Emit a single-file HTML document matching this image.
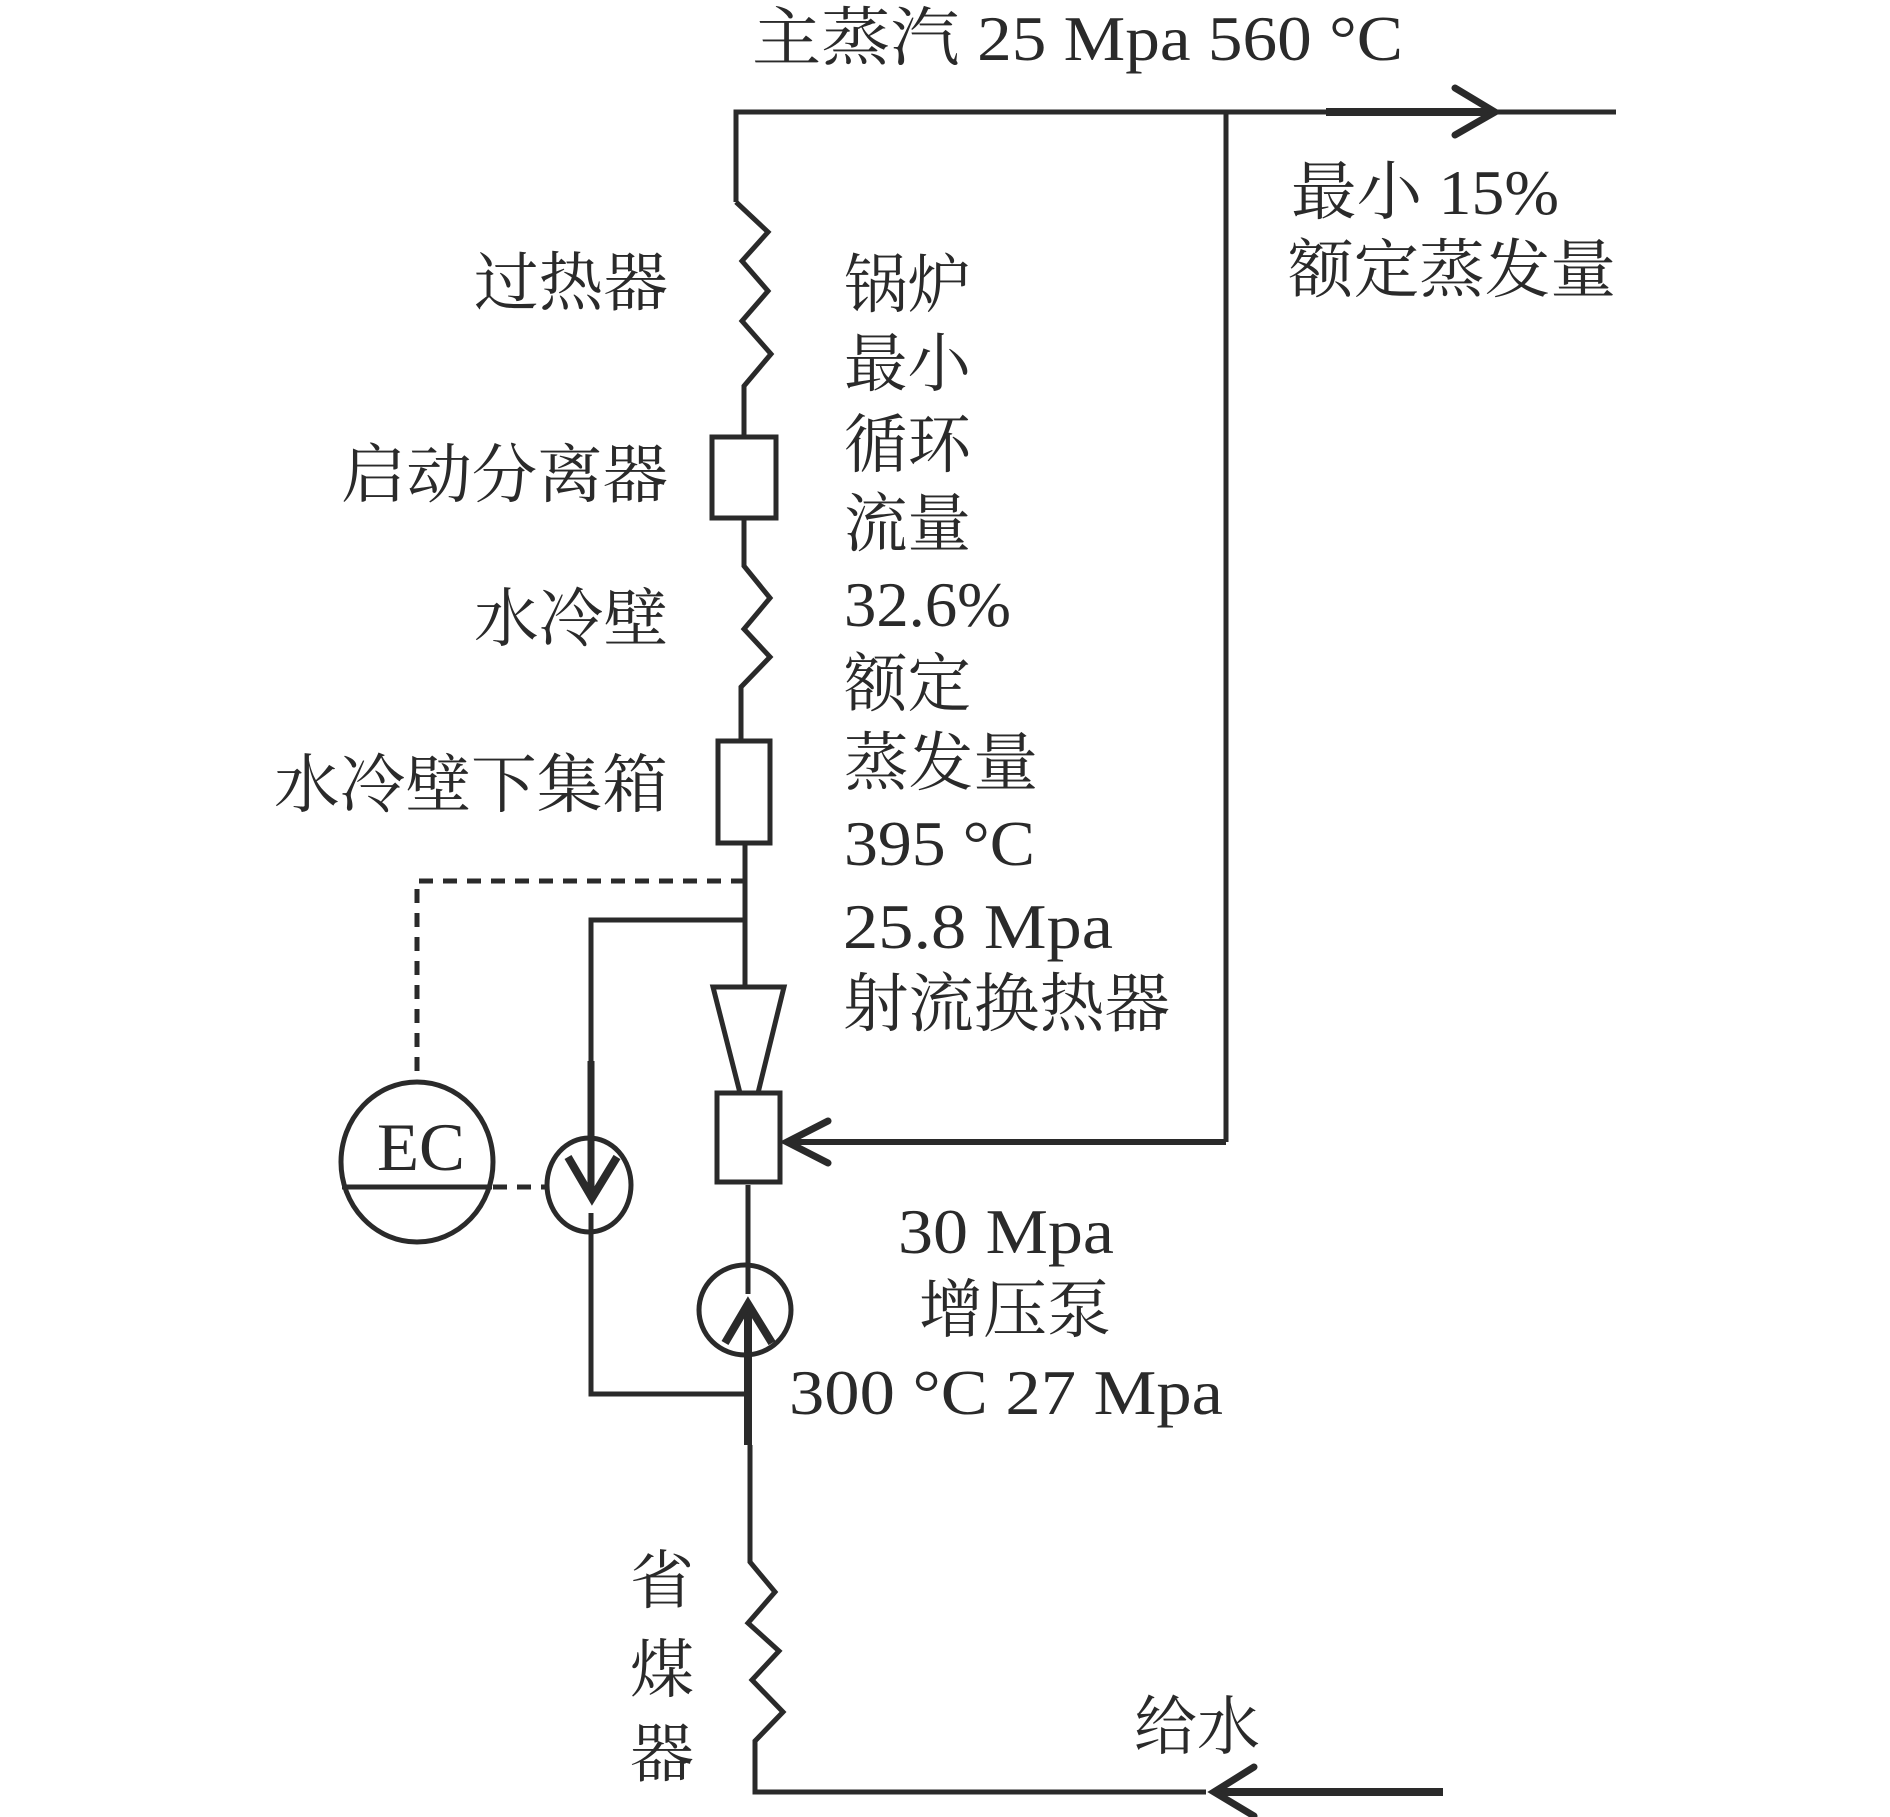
<!DOCTYPE html>
<html><head><meta charset="utf-8"><style>
html,body{margin:0;padding:0;background:#fff;}
svg{display:block;}
text{font-family:"Liberation Serif","Noto Serif CJK SC",serif;fill:#2a2a2a;}
</style></head><body>
<svg width="1890" height="1817" viewBox="0 0 1890 1817" xmlns="http://www.w3.org/2000/svg">
<g stroke="#2a2a2a" stroke-width="5" fill="none" stroke-linejoin="miter">
<polyline points="736,202 736,112 1616,112"/>
<line x1="1326" y1="112" x2="1495" y2="112" stroke-width="8"/>
<polyline points="1455,88 1495,112 1455,135" stroke-width="7" stroke-linecap="round"/>
<polyline points="736,202 768,232 742,261 768,291 742,321 771,354 744,386 744,437"/>
<rect x="712" y="437" width="64" height="81"/>
<polyline points="744,518 744,566 770,598 744,629 770,657 741,687 741,741"/>
<rect x="718" y="741" width="52" height="102"/>
<line x1="745" y1="843" x2="745" y2="987"/>
<polygon points="713,987 784,987 758,1093 740,1093"/>
<rect x="717" y="1093" width="63" height="89"/>
<line x1="1226" y1="112" x2="1226" y2="1142"/>
<line x1="787" y1="1142" x2="1226" y2="1142" stroke-width="6"/>
<polyline points="828,1121 787,1142 828,1163" stroke-width="7" stroke-linecap="round"/>
<line x1="748" y1="1185" x2="748" y2="1294"/>
<ellipse cx="745" cy="1310" rx="46" ry="45"/>
<line x1="748" y1="1304" x2="748" y2="1445" stroke-width="8"/>
<polyline points="725,1343 748,1304 772,1343" stroke-width="8"/>
<polyline points="750,1445 750,1562 775,1592 748,1623 779,1651 752,1680 783,1712 755,1741 755,1792 1206,1792"/>
<line x1="1214" y1="1792" x2="1443" y2="1792" stroke-width="8"/>
<polyline points="1254,1767 1214,1792 1254,1816" stroke-width="7" stroke-linecap="round"/>
<polyline points="745,920 591,920 591,1061"/>
<line x1="591" y1="1061" x2="591" y2="1198" stroke-width="7"/>
<polyline points="568,1157 592,1198 617,1157" stroke-width="8"/>
<ellipse cx="589" cy="1185" rx="42" ry="47"/>
<polyline points="591,1213 591,1394 748,1394"/>
<ellipse cx="417" cy="1162" rx="76" ry="80"/>
<line x1="342" y1="1187" x2="492" y2="1187"/>
<g stroke-dasharray="14,10">
<polyline points="745,881 417,881 417,1082"/>
<line x1="493" y1="1187" x2="547" y2="1187"/>
</g>
</g>
<g font-size="64">
<text x="752" y="60" textLength="651" lengthAdjust="spacingAndGlyphs">主蒸汽 25 Mpa 560 °C</text>
<text x="1291" y="214" textLength="268" lengthAdjust="spacingAndGlyphs">最小 15%</text>
<text x="1288" y="292" textLength="328" lengthAdjust="spacingAndGlyphs">额定蒸发量</text>
<text x="474" y="305" textLength="194" lengthAdjust="spacingAndGlyphs">过热器</text>
<text x="341" y="497" textLength="327" lengthAdjust="spacingAndGlyphs">启动分离器</text>
<text x="474" y="641" textLength="194" lengthAdjust="spacingAndGlyphs">水冷壁</text>
<text x="274" y="807" textLength="394" lengthAdjust="spacingAndGlyphs">水冷壁下集箱</text>
<text x="844" y="307" textLength="127" lengthAdjust="spacingAndGlyphs">锅炉</text>
<text x="844" y="386" textLength="127" lengthAdjust="spacingAndGlyphs">最小</text>
<text x="844" y="467" textLength="127" lengthAdjust="spacingAndGlyphs">循环</text>
<text x="844" y="546" textLength="127" lengthAdjust="spacingAndGlyphs">流量</text>
<text x="844" y="626" textLength="167" lengthAdjust="spacingAndGlyphs">32.6%</text>
<text x="844" y="706" textLength="127" lengthAdjust="spacingAndGlyphs">额定</text>
<text x="844" y="785" textLength="194" lengthAdjust="spacingAndGlyphs">蒸发量</text>
<text x="844" y="865" textLength="191" lengthAdjust="spacingAndGlyphs">395 °C</text>
<text x="843" y="948" textLength="270" lengthAdjust="spacingAndGlyphs">25.8 Mpa</text>
<text x="843" y="1026" textLength="327" lengthAdjust="spacingAndGlyphs">射流换热器</text>
<text x="377" y="1170" font-size="68" textLength="88" lengthAdjust="spacingAndGlyphs">EC</text>
<text x="898" y="1253" textLength="216" lengthAdjust="spacingAndGlyphs">30 Mpa</text>
<text x="919" y="1332" textLength="192" lengthAdjust="spacingAndGlyphs">增压泵</text>
<text x="789" y="1414" textLength="434" lengthAdjust="spacingAndGlyphs">300 °C 27 Mpa</text>
<text x="630" y="1603">省</text>
<text x="630" y="1692">煤</text>
<text x="630" y="1776">器</text>
<text x="1134" y="1749" textLength="126" lengthAdjust="spacingAndGlyphs">给水</text>
</g>
</svg>
</body></html>
